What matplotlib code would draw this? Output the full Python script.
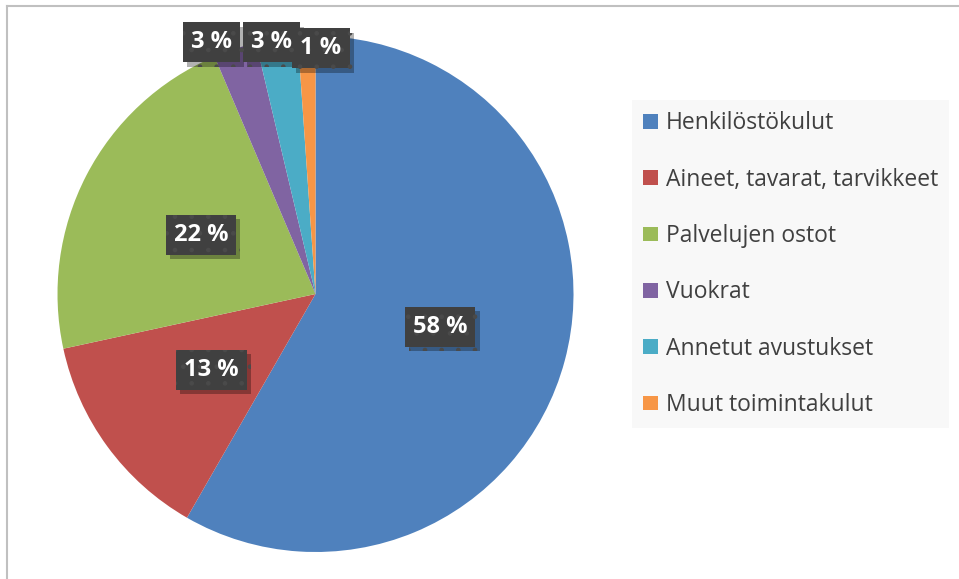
import matplotlib
matplotlib.use("Agg")
import matplotlib.pyplot as plt
from matplotlib.patches import Patch
from matplotlib.lines import Line2D
import matplotlib.patheffects as pe
import numpy as np

plt.rcParams['font.family'] = ['Open Sans', 'DejaVu Sans']
plt.rcParams['hatch.linewidth'] = 0.9

# kuluerittely, osuudet prosentteina
categories = ['Henkilöstökulut', 'Aineet, tavarat, tarvikkeet', 'Palvelujen ostot',
              'Vuokrat', 'Annetut avustukset', 'Muut toimintakulut']
shares = [58.3, 13.3, 22.0, 2.7, 2.6, 1.1]
colors = ['#4f81bd', '#c0504d', '#9bbb59', '#8064a2', '#4bacc6', '#f79646']

# small slices get their labels pulled up above the pie
label_override = {3: (-0.403, 0.975), 4: (-0.171, 0.975), 5: (0.021, 0.952)}

W, H = 959, 579
fig = plt.figure(figsize=(W / 100, H / 100), dpi=100)
fig.patch.set_facecolor('white')

cx, cy, r = 315.5, 294, 258
ax = fig.add_axes([(cx - r) / W, (H - cy - r) / H, 2 * r / W, 2 * r / H])
wedges, _ = ax.pie(shares, colors=colors, startangle=90, counterclock=False,
                   radius=1, wedgeprops=dict(linewidth=0))
ax.set_xlim(-1, 1)
ax.set_ylim(-1, 1)
ax.set_aspect('equal')
ax.axis('off')

for i, (w, v) in enumerate(zip(wedges, shares)):
    if i in label_override:
        x, y = label_override[i]
    else:
        mid = np.deg2rad((w.theta1 + w.theta2) / 2)
        x, y = 0.5 * np.cos(mid), 0.5 * np.sin(mid)
    t = ax.text(x, y, f"{v:.0f} %", ha='center', va='center', fontsize=17,
                fontweight='bold', color='white', zorder=5,
                bbox=dict(boxstyle='square,pad=0.34', facecolor='#404040',
                          edgecolor='#4a4a4a', linewidth=0, hatch='.'))
    t.get_bbox_patch().set_path_effects(
        [pe.SimplePatchShadow(offset=(3, -3), shadow_rgbFace='black', alpha=0.3),
         pe.Normal()])

handles = [Patch(facecolor=c, edgecolor='none') for c in colors]
leg = fig.legend(handles, categories, loc='upper left',
                 bbox_to_anchor=(632 / W, 1 - 100 / H), borderaxespad=0,
                 fontsize=16.5, frameon=True, fancybox=False, borderpad=0.5,
                 labelspacing=1.41, handlelength=0.62, handleheight=0.62,
                 handletextpad=0.35, labelcolor='#404040')
leg.get_frame().set_facecolor('#f7f7f7')
leg.get_frame().set_edgecolor('none')

# outer chart border (left and top)
fig.add_artist(Line2D([6.5 / W, 6.5 / W], [0, 1 - 5.5 / H], transform=fig.transFigure,
                      color='#c0c0c0', linewidth=1.5))
fig.add_artist(Line2D([6.5 / W, 1], [1 - 5.5 / H, 1 - 5.5 / H], transform=fig.transFigure,
                      color='#c0c0c0', linewidth=1.5))

fig.savefig('out.png', dpi=100)
